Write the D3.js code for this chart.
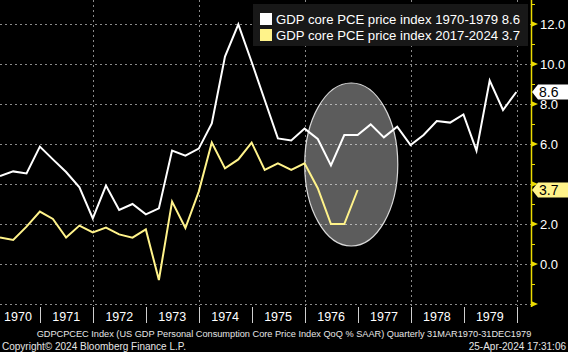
<!DOCTYPE html>
<html>
  <head>
    <meta charset="UTF-8" />
    <script src="https://d3js.org/d3.v7.min.js"></script>
    <style>
      body { margin: 0; background: #000; }
      text { font-family: "Liberation Sans", Arial, sans-serif; }
    </style>
  </head>
  <body>
    <div id="my_dataviz"></div>

    <script>
      var width = 568,
        height = 352;

      // quarterly QoQ % SAAR
      const series70s = [4.4, 4.63, 4.53, 5.87, 5.23, 4.6, 3.83, 2.28, 3.92, 2.7,
        3.0, 2.48, 2.78, 5.67, 5.42, 5.77, 7.03, 10.37, 11.98, 10.1,
        8.2, 6.28, 6.18, 6.77, 6.25, 4.93, 6.45, 6.45, 6.98, 6.33,
        6.87, 5.95, 6.45, 7.15, 7.07, 7.48, 5.67, 9.17, 7.7, 8.6];
      const series2017 = [1.33, 1.2, 1.87, 2.62, 2.25, 1.32, 1.92, 1.58, 1.82, 1.48,
        1.32, 1.73, -0.8, 3.12, 1.8, 3.62, 6.07, 4.78, 5.23, 6.07,
        4.7, 5.03, 4.7, 5.03, 3.79, 2.0, 2.0, 3.7];
      const seriesNames = ["GDP core PCE price index 1970-1979 8.6", "GDP core PCE price index 2017-2024 3.7"];
      const years = d3.range(1970, 1980);
      const yTicks = [-2, 0, 2, 4, 6, 8, 10, 12];
      const yMinor = [-1, 1, 3, 5, 7, 9, 11, 13];
      const lastValues = [8.6, 3.7];

      const white = "#ffffff";
      const yellow = "#fff38a";
      const axisYellow = "#ecdc00";

      // quarter-end dates
      var quarters = d3.range(40).map((i) => new Date(1970, 3 * (i + 1), 0));

      var svg = d3
        .select("#my_dataviz")
        .append("svg")
        .attr("width", width)
        .attr("height", height)
        .style("background", "#000");

      var xScale = d3
        .scaleTime()
        .domain([new Date(1970, 2, 31), new Date(1980, 3, 10)])
        .range([0, 531]);
      var yScale = d3.scaleLinear().domain([-2, 13.2]).range([304, 0]);
      var axisX = 531;

      // grid
      var grid = svg.append("g");
      grid
        .selectAll("line.h")
        .data(yTicks)
        .join("line")
        .attr("x1", 0)
        .attr("x2", axisX)
        .attr("y1", (d) => yScale(d) + 0.5)
        .attr("y2", (d) => yScale(d) + 0.5)
        .attr("stroke", "#8a8a8a")
        .attr("stroke-dasharray", "2,3");
      grid
        .selectAll("line.v")
        .data([1972, 1974, 1976, 1978, 1980])
        .join("line")
        .attr("x1", (d) => Math.round(xScale(new Date(d, 0, 1))) + 0.5)
        .attr("x2", (d) => Math.round(xScale(new Date(d, 0, 1))) + 0.5)
        .attr("y1", 0)
        .attr("y2", 306)
        .attr("stroke", "#8a8a8a")
        .attr("stroke-dasharray", "2,3");

      // highlight ellipse around the 1976 dip
      var ex1 = xScale(new Date(1976, 0, 1)),
        ex2 = xScale(new Date(1977, 9, 4)),
        ey1 = yScale(9.05),
        ey2 = yScale(0.9);
      svg
        .append("ellipse")
        .attr("cx", (ex1 + ex2) / 2)
        .attr("cy", (ey1 + ey2) / 2)
        .attr("rx", (ex2 - ex1) / 2)
        .attr("ry", (ey2 - ey1) / 2)
        .attr("fill", "rgba(255,255,255,0.36)")
        .attr("stroke", "#d8d8d8")
        .attr("stroke-width", 1.2);

      var line = d3
        .line()
        .x((d, i) => xScale(quarters[i]))
        .y((d) => yScale(d));

      svg
        .append("path")
        .attr("d", line(series2017))
        .attr("fill", "none")
        .attr("stroke", yellow)
        .attr("stroke-width", 2);
      svg
        .append("path")
        .attr("d", line(series70s))
        .attr("fill", "none")
        .attr("stroke", white)
        .attr("stroke-width", 2);

      // right axis
      var ax = svg.append("g");
      ax.append("line")
        .attr("x1", axisX + 0.5)
        .attr("x2", axisX + 0.5)
        .attr("y1", 0)
        .attr("y2", 307)
        .attr("stroke", axisYellow)
        .attr("stroke-width", 1.5);
      ax.selectAll("path.tri")
        .data(yTicks)
        .join("path")
        .attr("d", (d) => {
          var y = yScale(d);
          return "M" + axisX + "," + (y - 3) + "L" + (axisX + 7) + "," + y + "L" + axisX + "," + (y + 3) + "Z";
        })
        .attr("fill", axisYellow);
      ax.selectAll("line.minor")
        .data(yMinor)
        .join("line")
        .attr("x1", axisX)
        .attr("x2", axisX + 4)
        .attr("y1", (d) => yScale(d) + 0.5)
        .attr("y2", (d) => yScale(d) + 0.5)
        .attr("stroke", axisYellow);
      // labels hidden behind a value tag are skipped
      ax.selectAll("text")
        .data(yTicks.filter((d) => d >= 0 && lastValues.every((v) => Math.abs(v - d) > 0.5)))
        .join("text")
        .attr("x", axisX + 9)
        .attr("y", (d) => yScale(d) + 4.5)
        .attr("fill", "#fff")
        .style("font-size", "13px")
        .text((d) => d.toFixed(1));

      // last value tags
      var tagColors = [white, yellow];
      lastValues.forEach((v, i) => {
        var y = yScale(v);
        svg
          .append("path")
          .attr("d", "M" + (axisX + 1) + "," + y + "L" + (axisX + 7) + "," + (y - 7.5) + "L568," + (y - 7.5) + "L568," + (y + 7.5) + "L" + (axisX + 7) + "," + (y + 7.5) + "Z")
          .attr("fill", tagColors[i]);
        svg
          .append("text")
          .attr("x", axisX + 8)
          .attr("y", y + 5)
          .attr("fill", "#000")
          .style("font-size", "14px")
          .text(v.toFixed(1));
      });

      // x axis: year bands
      var xa = svg.append("g");
      xa.selectAll("line")
        .data(d3.range(1971, 1981))
        .join("line")
        .attr("x1", (d) => Math.round(xScale(new Date(d, 0, 1))) + 0.5)
        .attr("x2", (d) => Math.round(xScale(new Date(d, 0, 1))) + 0.5)
        .attr("y1", 307)
        .attr("y2", 323)
        .attr("stroke", "#cfcfcf");
      xa.selectAll("text")
        .data(years)
        .join("text")
        .attr("x", (d) => Math.max(18, xScale(new Date(d, 6, 1))))
        .attr("y", 321)
        .attr("text-anchor", "middle")
        .attr("fill", "#fff")
        .style("font-size", "12.5px")
        .text((d) => d);

      // legend
      var lg = svg.append("g");
      lg.append("rect")
        .attr("x", 253)
        .attr("y", 4)
        .attr("width", 275)
        .attr("height", 42)
        .attr("fill", "#181818");
      seriesNames.forEach((name, i) => {
        lg.append("rect")
          .attr("x", 260)
          .attr("y", 13 + i * 16)
          .attr("width", 12)
          .attr("height", 12)
          .attr("fill", tagColors[i]);
        lg.append("text")
          .attr("x", 276)
          .attr("y", 24 + i * 16)
          .attr("fill", "#fff")
          .style("font-size", "13px")
          .attr("textLength", 244)
          .attr("lengthAdjust", "spacingAndGlyphs")
          .text(name);
      });

      // footer
      svg.append("text")
        .attr("x", 284)
        .attr("y", 337)
        .attr("text-anchor", "middle")
        .attr("fill", "#e6e6e6")
        .style("font-size", "9.2px")
        .text("GDPCPCEC Index (US GDP Personal Consumption Core Price Index QoQ % SAAR)  Quarterly 31MAR1970-31DEC1979");
      svg.append("text")
        .attr("x", 2)
        .attr("y", 350)
        .attr("fill", "#e6e6e6")
        .style("font-size", "10px")
        .text("Copyright\u00a9 2024 Bloomberg Finance L.P.");
      svg.append("text")
        .attr("x", 566)
        .attr("y", 350)
        .attr("text-anchor", "end")
        .attr("fill", "#e6e6e6")
        .style("font-size", "10px")
        .text("25-Apr-2024 17:31:06");
    </script>
  </body>
</html>
